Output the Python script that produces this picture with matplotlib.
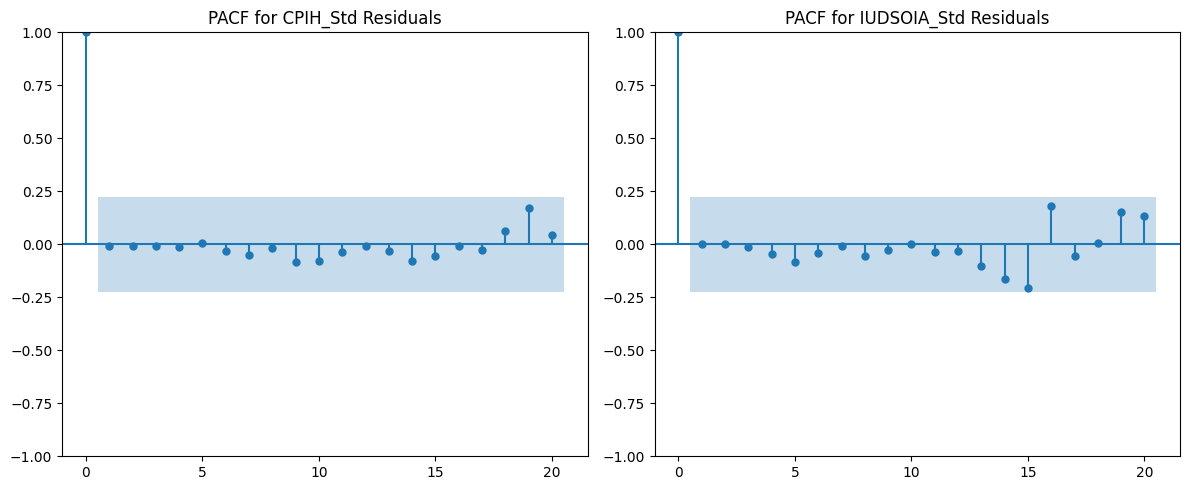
import numpy as np
import matplotlib
matplotlib.use("Agg")
import matplotlib.pyplot as plt

# --- DATA ---
LAGS = list(range(21))
CONF = 0.223  # 95% band half-width

CPIH_PACF = [1.0, -0.006, -0.006, -0.006, -0.011, 0.006, -0.030, -0.049, -0.017,
             -0.082, -0.077, -0.035, -0.006, -0.030, -0.077, -0.055, -0.006,
             -0.025, 0.065, 0.173, 0.046]
IUDSOIA_PACF = [1.0, 0.002, 0.002, -0.014, -0.045, -0.083, -0.039, -0.008, -0.054,
                -0.026, 0.003, -0.035, -0.031, -0.101, -0.166, -0.206, 0.179,
                -0.054, 0.008, 0.154, 0.135]

PANELS = [("CPIH_Std", CPIH_PACF), ("IUDSOIA_Std", IUDSOIA_PACF)]


def pacf_panel(ax, lags, vals, title):
    lags = np.asarray(lags, dtype=float)
    vals = np.asarray(vals)
    ax.vlines(lags, [0], vals)
    ax.axhline(0)
    ax.plot(lags, vals, marker="o", markersize=5, linestyle="None")
    # confidence band, widened half a lag on each end like statsmodels
    band_x = lags[1:].copy()
    band_x[0] -= 0.5
    band_x[-1] += 0.5
    ax.fill_between(band_x, -CONF, CONF, alpha=0.25, linewidth=0)
    ax.set_ylim(-1, 1)
    ax.set_title(title)


fig, axes = plt.subplots(1, 2, figsize=(12, 5), dpi=100)
for ax, (name, vals) in zip(axes, PANELS):
    pacf_panel(ax, LAGS, vals, f"PACF for {name} Residuals")

plt.tight_layout()
plt.savefig("out.png", dpi=100, bbox_inches="tight")
